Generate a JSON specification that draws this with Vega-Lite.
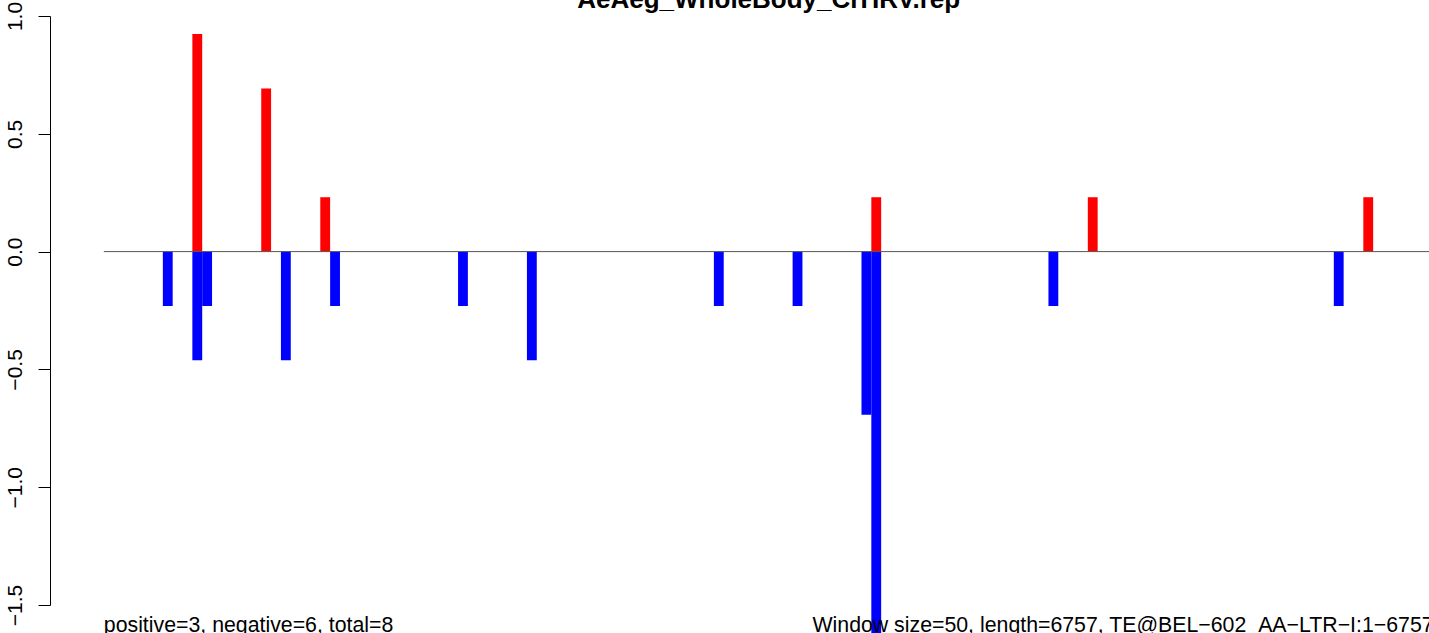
{
  "$schema": "https://vega.github.io/schema/vega-lite/v6.json",
  "width": 1379,
  "height": 589,
  "autosize": {"type": "none"},
  "padding": {"left": 50, "top": 16, "right": 0, "bottom": 28},
  "background": "white",
  "config": {"view": {"stroke": null}, "font": "Liberation Sans"},
  "layer": [
    {
      "data": {
        "values": [
          {"start": 300, "end": 350, "value": -0.2308, "sign": "neg"},
          {"start": 450, "end": 500, "value": 0.9231, "sign": "pos"},
          {"start": 450, "end": 500, "value": -0.4615, "sign": "neg"},
          {"start": 500, "end": 550, "value": -0.2308, "sign": "neg"},
          {"start": 800, "end": 850, "value": 0.6923, "sign": "pos"},
          {"start": 900, "end": 950, "value": -0.4615, "sign": "neg"},
          {"start": 1100, "end": 1150, "value": 0.2308, "sign": "pos"},
          {"start": 1150, "end": 1200, "value": -0.2308, "sign": "neg"},
          {"start": 1800, "end": 1850, "value": -0.2308, "sign": "neg"},
          {"start": 2150, "end": 2200, "value": -0.4615, "sign": "neg"},
          {"start": 3100, "end": 3150, "value": -0.2308, "sign": "neg"},
          {"start": 3500, "end": 3550, "value": -0.2308, "sign": "neg"},
          {"start": 3850, "end": 3900, "value": -0.6923, "sign": "neg"},
          {"start": 3900, "end": 3950, "value": 0.2308, "sign": "pos"},
          {"start": 3900, "end": 3950, "value": -1.8462, "sign": "neg"},
          {"start": 4800, "end": 4850, "value": -0.2308, "sign": "neg"},
          {"start": 5000, "end": 5050, "value": 0.2308, "sign": "pos"},
          {"start": 6250, "end": 6300, "value": -0.2308, "sign": "neg"},
          {"start": 6400, "end": 6450, "value": 0.2308, "sign": "pos"}
        ]
      },
      "mark": {"type": "rect"},
      "encoding": {
        "x": {
          "field": "start",
          "type": "quantitative",
          "scale": {"domain": [-273.4, 6733.7], "nice": false, "zero": false},
          "axis": null
        },
        "x2": {"field": "end"},
        "y": {
          "field": "value",
          "type": "quantitative",
          "scale": {"domain": [-1.5, 1.0], "nice": false, "zero": false},
          "axis": {
            "values": [-1.5, -1, -0.5, 0, 0.5, 1],
            "labelExpr": "replace(format(datum.value, '.1f'), '-', '−')",
            "title": null,
            "grid": false,
            "domainColor": "black",
            "domainWidth": 1,
            "tickColor": "black",
            "tickWidth": 1,
            "tickSize": 12,
            "labelAngle": -90,
            "labelAlign": "center",
            "labelBaseline": "alphabetic",
            "labelPadding": 17,
            "labelFontSize": 21,
            "labelColor": "black",
            "labelFont": "Liberation Sans"
          }
        },
        "y2": {"datum": 0},
        "color": {
          "field": "sign",
          "type": "nominal",
          "scale": {"domain": ["pos", "neg"], "range": ["#FF0000", "#0000FF"]},
          "legend": null
        }
      }
    },
    {
      "data": {"values": [{"h": 0}]},
      "mark": {"type": "rule", "color": "#555555", "strokeWidth": 1},
      "encoding": {
        "x": {"datum": 0},
        "x2": {"datum": 6757},
        "y": {"field": "h", "type": "quantitative"}
      }
    },
    {
      "data": {"values": [{"label": "AeAeg_WholeBody_CrHRV.rep"}]},
      "mark": {"type": "text", "align": "center", "baseline": "alphabetic", "fontSize": 26, "fontWeight": "bold", "color": "black", "font": "Liberation Sans"},
      "encoding": {
        "x": {"datum": 3378.5},
        "y": {"datum": 1.036},
        "text": {"field": "label"}
      }
    },
    {
      "data": {"values": [{"label": "positive=3, negative=6, total=8"}]},
      "mark": {"type": "text", "align": "left", "baseline": "alphabetic", "fontSize": 21.3, "color": "black", "font": "Liberation Sans"},
      "encoding": {
        "x": {"datum": 0},
        "y": {"datum": -1.615},
        "text": {"field": "label"}
      }
    },
    {
      "data": {"values": [{"label": "Window size=50, length=6757, TE@BEL−602_AA−LTR−I:1−6757"}]},
      "mark": {"type": "text", "align": "right", "baseline": "alphabetic", "fontSize": 21.3, "color": "black", "font": "Liberation Sans"},
      "encoding": {
        "x": {"datum": 6757},
        "y": {"datum": -1.615},
        "text": {"field": "label"}
      }
    }
  ]
}
